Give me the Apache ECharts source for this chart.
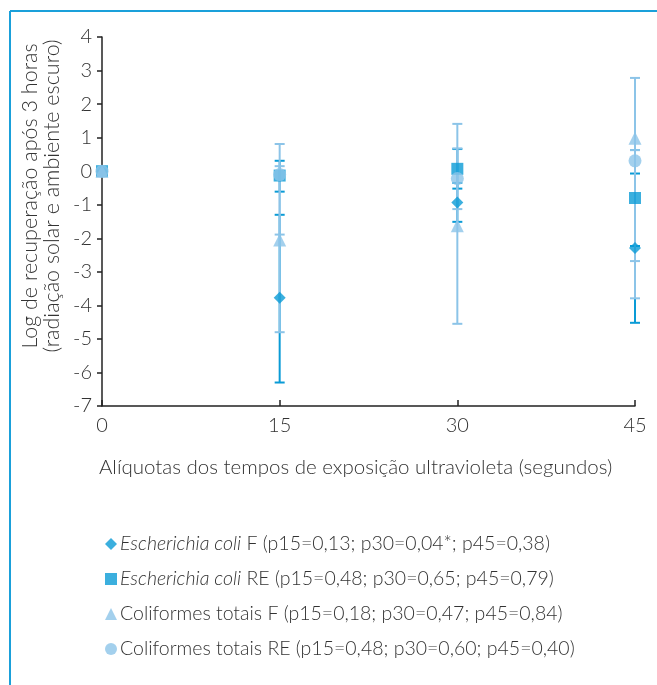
<!DOCTYPE html>
<html>
<head>
<meta charset="utf-8">
<script src="https://cdn.jsdelivr.net/npm/echarts@6/dist/echarts.min.js"></script>
<style>
html,body{margin:0;padding:0;background:#fff;}
#chart{width:657px;height:685px;}
</style>
</head>
<body>
<div id="chart"></div>
<script>
// ---- data ----
var xValues = [0, 15, 30, 45];
var seriesNames = [
  'Escherichia coli F (p15=0,13; p30=0,04*; p45=0,38)',
  'Escherichia coli RE (p15=0,48; p30=0,65; p45=0,79)',
  'Coliformes totais F (p15=0,18; p30=0,47; p45=0,84)',
  'Coliformes totais RE (p15=0,48; p30=0,60; p45=0,40)'
];
var xTitle = 'Alíquotas dos tempos de exposição ultravioleta (segundos)';
var yTitle = 'Log de recuperação após 3 horas\n(radiação solar e ambiente escuro)';
var ecoliF     = [0, -3.77, -0.93, -2.29];
var ecoliFLow  = [0, -6.30, -1.51, -4.52];
var ecoliFHigh = [0, -1.30, -0.35, -0.07];
var ecoliRE     = [0, -0.13, 0.07, -0.80];
var ecoliRELow  = [0, -0.61, -0.52, -2.23];
var ecoliREHigh = [0, 0.31, 0.66, 0.63];
var ctF     = [0, -2.05, -1.63, 0.98];
var ctFLow  = [0, -4.80, -4.55, -3.79];
var ctFHigh = [0, 0.81, 1.41, 2.78];
var ctRE     = [0, -0.10, -0.22, 0.31];
var ctRELow  = [0, -1.89, -1.13, -2.68];
var ctREHigh = [0, 0.15, 0.68, 0.63];
var yTicks = [-7, -6, -5, -4, -3, -2, -1, 0, 1, 2, 3, 4];

// ---- styles ----
var DARK = '#0a9bd6';
var LIGHT = '#8cc4e8';
var FONT = 'Lato';
var TXT = '#333';

function pts(vals) { return xValues.map(function (x, i) { return [x, vals[i]]; }); }
function errPts(lo, hi) {
  var out = [];
  xValues.forEach(function (x, i) { if (lo[i] !== hi[i]) out.push([x, lo[i], hi[i]]); });
  return out;
}
function errSeries(lo, hi, color) {
  return {
    type: 'custom',
    silent: true,
    z: 1,
    data: errPts(lo, hi),
    encode: { x: 0, y: [1, 2] },
    renderItem: function (params, api) {
      var x = api.value(0);
      var p1 = api.coord([x, api.value(1)]);
      var p2 = api.coord([x, api.value(2)]);
      var hw = 5;
      var st = { stroke: color, lineWidth: 2 };
      return {
        type: 'group',
        children: [
          { type: 'line', shape: { x1: p1[0], y1: p1[1], x2: p2[0], y2: p2[1] }, style: st },
          { type: 'line', shape: { x1: p1[0] - hw, y1: p1[1], x2: p1[0] + hw, y2: p1[1] }, style: st },
          { type: 'line', shape: { x1: p2[0] - hw, y1: p2[1], x2: p2[0] + hw, y2: p2[1] }, style: st }
        ]
      };
    }
  };
}

var chart = echarts.init(document.getElementById('chart'), null, { renderer: 'canvas' });
var option = {
  animation: false,
  backgroundColor: '#ffffff',
  textStyle: { fontFamily: FONT, fontWeight: 300 },
  grid: { left: 102, right: 22, top: 37, bottom: 279, containLabel: false },
  xAxis: {
    type: 'value', min: 0, max: 45, interval: 15,
    name: xTitle,
    nameLocation: 'start',
    nameGap: 0,
    nameTextStyle: { fontFamily: FONT, fontWeight: 300, fontSize: 20.5, color: TXT, align: 'left', verticalAlign: 'top', padding: [51, 0, 0, -3] },
    axisLine: { show: true, onZero: false, lineStyle: { color: '#222', width: 1.5 } },
    axisTick: { show: true, inside: true, length: 6, lineStyle: { color: '#222', width: 1.5 } },
    axisLabel: { fontFamily: FONT, fontWeight: 300, fontSize: 20, color: TXT, margin: 10 },
    splitLine: { show: false }
  },
  yAxis: {
    type: 'value', min: yTicks[0], max: yTicks[yTicks.length - 1], interval: 1,
    axisLine: { show: true, onZero: false, lineStyle: { color: '#222', width: 1.5 } },
    axisTick: { show: true, inside: false, length: 5, lineStyle: { color: '#222', width: 1.5 } },
    axisLabel: { fontFamily: FONT, fontWeight: 300, fontSize: 20, color: TXT, margin: 10 },
    splitLine: { show: false }
  },
  legend: {
    orient: 'vertical',
    left: 100,
    top: 528,
    itemGap: 13,
    itemWidth: 12,
    itemHeight: 12,
    selectedMode: false,
    data: [
      { name: seriesNames[0], icon: 'diamond' },
      { name: seriesNames[1], icon: 'rect' },
      { name: seriesNames[2], icon: 'triangle' },
      { name: seriesNames[3], icon: 'circle' }
    ],
    formatter: function (name) {
      var k = 'Escherichia coli';
      if (name.indexOf(k) === 0) return '{i|' + k + '}{n|' + name.slice(k.length) + '}';
      return '{n|' + name + '}';
    },
    textStyle: {
      fontFamily: FONT, fontWeight: 300, fontSize: 19.5, color: TXT, lineHeight: 22,
      padding: [0, 0, 0, -2],
      rich: {
        i: { fontFamily: FONT, fontWeight: 300, fontStyle: 'italic', fontSize: 19.5, color: TXT, lineHeight: 22 },
        n: { fontFamily: FONT, fontWeight: 300, fontSize: 19.5, color: TXT, lineHeight: 22 }
      }
    }
  },
  graphic: [
    { type: 'line', shape: { x1: 10, y1: 11, x2: 657, y2: 11 }, style: { stroke: '#1aa0da', lineWidth: 2 }, silent: true },
    { type: 'line', shape: { x1: 10, y1: 11, x2: 10, y2: 685 }, style: { stroke: '#1aa0da', lineWidth: 2 }, silent: true },
    {
      type: 'text', x: 41, y: 196, rotation: Math.PI / 2, silent: true,
      style: {
        text: yTitle, fontFamily: FONT, fontWeight: 300, fontSize: 21.5, lineHeight: 22,
        fill: TXT, textAlign: 'center', textVerticalAlign: 'middle', align: 'center', verticalAlign: 'middle'
      }
    }
  ],
  series: [
    errSeries(ecoliFLow, ecoliFHigh, DARK),
    errSeries(ecoliRELow, ecoliREHigh, DARK),
    errSeries(ctFLow, ctFHigh, LIGHT),
    errSeries(ctRELow, ctREHigh, LIGHT),
    { name: seriesNames[0], type: 'scatter', symbol: 'diamond', symbolSize: 12, z: 3, itemStyle: { color: DARK }, data: pts(ecoliF) },
    { name: seriesNames[1], type: 'scatter', symbol: 'rect', symbolSize: 12, z: 3, itemStyle: { color: DARK }, data: pts(ecoliRE) },
    { name: seriesNames[2], type: 'scatter', symbol: 'triangle', symbolSize: 13, z: 3, itemStyle: { color: LIGHT }, data: pts(ctF) },
    { name: seriesNames[3], type: 'scatter', symbol: 'circle', symbolSize: 13, z: 3, itemStyle: { color: LIGHT }, data: pts(ctRE) }
  ]
};
chart.setOption(option);
</script>
</body>
</html>
